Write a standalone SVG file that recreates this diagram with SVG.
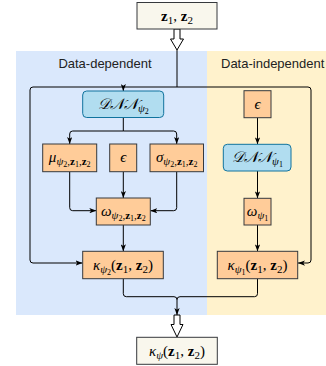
<svg xmlns="http://www.w3.org/2000/svg" width="326" height="366" viewBox="0 0 326 366">
<style>
.io{fill:#f9f7ed;stroke:#36393d;stroke-width:1}
.or{fill:#ffcc99;stroke:#36393d;stroke-width:1}
.dn{fill:#b1ddf0;stroke:#10739e;stroke-width:1}
.ln{fill:none;stroke:#000;stroke-width:1;stroke-linejoin:round}
.ha{fill:#fff;stroke:#000;stroke-width:1}
.lab{font-family:"Liberation Sans",Arial,sans-serif;font-size:13px;fill:#222}
.m{font-family:"Liberation Serif","DejaVu Serif",serif;font-size:15px;fill:#000}
.b{font-weight:bold;font-style:normal}
.i{font-style:italic}
.s{font-size:11px}
.ss{font-size:8px}
</style>
<defs>
<marker id="ar" viewBox="0 0 8 6" refX="8" refY="3" markerWidth="7" markerHeight="5.25" markerUnits="userSpaceOnUse" orient="auto">
<path d="M0,0 L8,3 L0,6 L2,3 z" fill="#000"/>
</marker>
</defs>
<g id="regions">
<rect x="16" y="51" width="191" height="264" fill="#dae8fc"/>
<rect x="207" y="51" width="119" height="264" fill="#fff2cc"/>
<text class="lab" x="105" y="68" text-anchor="middle">Data-dependent</text>
<text class="lab" x="221" y="68">Data-independent</text>
</g>
<g id="connectors">
<path class="ha" d="M174,29 L180,29 L180,39 L183.5,39 L177,50 L170.5,39 L174,39 Z"/>
<path class="ln" d="M177,50 L177,87"/>
<path class="ln" d="M177,87 L33,87 Q30,87 30,90 L30,260 Q30,263 33,263 L82.5,263" marker-end="url(#ar)"/>
<path class="ln" d="M177,87 L308,87 Q311,87 311,90 L311,260 Q311,263 308,263 L298,263" marker-end="url(#ar)"/>
<path class="ln" d="M123.3,87 L123.3,91" marker-end="url(#ar)"/>
<path class="ln" d="M123.3,117.5 L123.3,131" />
<path class="ln" d="M123.3,131 L72.7,131 Q69.7,131 69.7,134 L69.7,144" marker-end="url(#ar)"/>
<path class="ln" d="M123.3,131 L173.7,131 Q176.7,131 176.7,134 L176.7,144" marker-end="url(#ar)"/>
<path class="ln" d="M69.7,171.7 L69.7,207.7 Q69.7,210.7 72.7,210.7 L96.3,210.7" marker-end="url(#ar)"/>
<path class="ln" d="M176.7,171.7 L176.7,207.7 Q176.7,210.7 173.7,210.7 L150.3,210.7" marker-end="url(#ar)"/>
<path class="ln" d="M123.3,171.7 L123.3,198" marker-end="url(#ar)"/>
<path class="ln" d="M123.3,225 L123.3,251.3" marker-end="url(#ar)"/>
<path class="ln" d="M257.5,117.7 L257.5,144.3" marker-end="url(#ar)"/>
<path class="ln" d="M257.5,171 L257.5,198.3" marker-end="url(#ar)"/>
<path class="ln" d="M257.5,225 L257.5,251.3" marker-end="url(#ar)"/>
<path class="ln" d="M123.3,278.7 L123.3,293.7 Q123.3,296.7 126.3,296.7 L174,296.7 Q177,296.7 177,299.7 L177,315" marker-end="url(#ar)"/>
<path class="ln" d="M257.5,278.7 L257.5,293.7 Q257.5,296.7 254.5,296.7 L180,296.7 Q177,296.7 177,299.7"/>
<path class="ha" d="M174,315 L180,315 L180,324.5 L183,324.5 L177,337 L171,324.5 L174,324.5 Z"/>
</g>
<g id="input">
<rect class="io" x="137" y="2.5" width="80" height="26.5"/>
<text class="m" x="177" y="20.5" text-anchor="middle"><tspan class="b">z</tspan><tspan class="s" dy="3">1</tspan><tspan dy="-3">, </tspan><tspan class="b">z</tspan><tspan class="s" dy="3">2</tspan></text>
</g>
<g id="dnn2">
<rect class="dn" x="82.7" y="91" width="81" height="26.5" rx="4"/>
<text class="m i" x="123.3" y="108.5" text-anchor="middle">𝒟𝒩𝒩<tspan class="s" dy="3">ψ</tspan><tspan class="ss" dy="2" font-style="normal">2</tspan></text>
</g>
<g id="mu">
<rect class="or" x="42.7" y="144" width="54" height="27.7"/>
<text class="m" x="69.7" y="162" text-anchor="middle"><tspan class="i">μ</tspan><tspan class="s i" dy="3">ψ</tspan><tspan class="ss" dy="2">2</tspan><tspan class="s" dy="-2">,</tspan><tspan class="s b">z</tspan><tspan class="ss" dy="2">1</tspan><tspan class="s" dy="-2">,</tspan><tspan class="s b">z</tspan><tspan class="ss" dy="2">2</tspan></text>
</g>
<g id="eps2">
<rect class="or" x="109.7" y="144" width="27" height="27.7"/>
<text class="m i" x="123.3" y="162" text-anchor="middle">ϵ</text>
</g>
<g id="sigma">
<rect class="or" x="150" y="144" width="53.5" height="27.7"/>
<text class="m" x="176.7" y="162" text-anchor="middle"><tspan class="i">σ</tspan><tspan class="s i" dy="3">ψ</tspan><tspan class="ss" dy="2">2</tspan><tspan class="s" dy="-2">,</tspan><tspan class="s b">z</tspan><tspan class="ss" dy="2">1</tspan><tspan class="s" dy="-2">,</tspan><tspan class="s b">z</tspan><tspan class="ss" dy="2">2</tspan></text>
</g>
<g id="omega2">
<rect class="or" x="96.3" y="198" width="54" height="27"/>
<text class="m" x="123.3" y="215.5" text-anchor="middle"><tspan class="i">ω</tspan><tspan class="s i" dy="3">ψ</tspan><tspan class="ss" dy="2">2</tspan><tspan class="s" dy="-2">,</tspan><tspan class="s b">z</tspan><tspan class="ss" dy="2">1</tspan><tspan class="s" dy="-2">,</tspan><tspan class="s b">z</tspan><tspan class="ss" dy="2">2</tspan></text>
</g>
<g id="kappa2">
<rect class="or" x="82.7" y="251.3" width="80.6" height="27.4"/>
<text class="m" x="123" y="269.5" text-anchor="middle"><tspan class="i">κ</tspan><tspan class="s i" dy="3">ψ</tspan><tspan class="ss" dy="2">2</tspan><tspan dy="-5">(</tspan><tspan class="b">z</tspan><tspan class="s" dy="3">1</tspan><tspan dy="-3">, </tspan><tspan class="b">z</tspan><tspan class="s" dy="3">2</tspan><tspan dy="-3">)</tspan></text>
</g>
<g id="eps1">
<rect class="or" x="244" y="90.7" width="27" height="27"/>
<text class="m i" x="257.5" y="108.5" text-anchor="middle">ϵ</text>
</g>
<g id="dnn1">
<rect class="dn" x="223.3" y="144.3" width="67.7" height="26.7" rx="4"/>
<text class="m i" x="257.5" y="161.5" text-anchor="middle">𝒟𝒩𝒩<tspan class="s" dy="3">ψ</tspan><tspan class="ss" dy="2" font-style="normal">1</tspan></text>
</g>
<g id="omega1">
<rect class="or" x="244" y="198.3" width="27" height="26.7"/>
<text class="m" x="257.5" y="215.5" text-anchor="middle"><tspan class="i">ω</tspan><tspan class="s i" dy="3">ψ</tspan><tspan class="ss" dy="2">1</tspan></text>
</g>
<g id="kappa1">
<rect class="or" x="217.3" y="251.3" width="80.4" height="27.4"/>
<text class="m" x="257.5" y="269.5" text-anchor="middle"><tspan class="i">κ</tspan><tspan class="s i" dy="3">ψ</tspan><tspan class="ss" dy="2">1</tspan><tspan dy="-5">(</tspan><tspan class="b">z</tspan><tspan class="s" dy="3">1</tspan><tspan dy="-3">, </tspan><tspan class="b">z</tspan><tspan class="s" dy="3">2</tspan><tspan dy="-3">)</tspan></text>
</g>
<g id="output">
<rect class="io" x="136.7" y="337.3" width="80.6" height="27"/>
<text class="m" x="177" y="355.5" text-anchor="middle"><tspan class="i">κ</tspan><tspan class="s i" dy="3">ψ</tspan><tspan dy="-3">(</tspan><tspan class="b">z</tspan><tspan class="s" dy="3">1</tspan><tspan dy="-3">, </tspan><tspan class="b">z</tspan><tspan class="s" dy="3">2</tspan><tspan dy="-3">)</tspan></text>
</g>
</svg>
